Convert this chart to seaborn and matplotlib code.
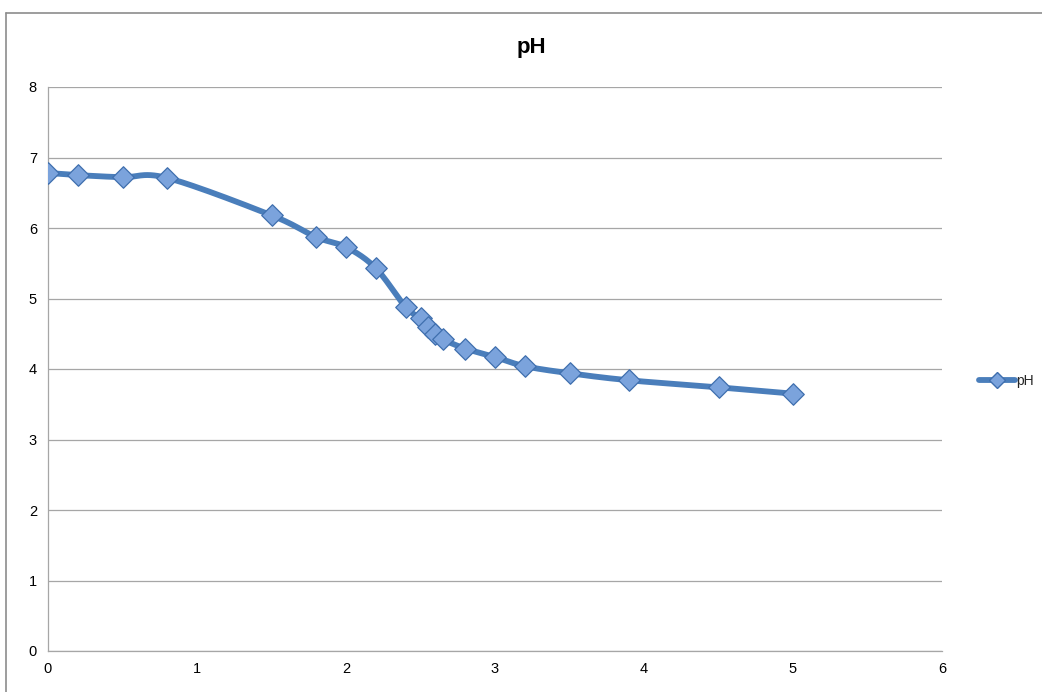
import numpy as np
import pandas as pd
import matplotlib
matplotlib.use("Agg")
import matplotlib.pyplot as plt
import seaborn as sns
from matplotlib.lines import Line2D

x_vals = [0, 0.2, 0.5, 0.8, 1.5, 1.8, 2.0, 2.2, 2.4, 2.5, 2.55, 2.6, 2.65, 2.8, 3.0, 3.2, 3.5, 3.9, 4.5, 5.0]
ph_vals = [6.78, 6.75, 6.72, 6.71, 6.18, 5.87, 5.73, 5.43, 4.88, 4.72, 4.6, 4.5, 4.42, 4.29, 4.17, 4.04, 3.94, 3.84, 3.74, 3.65]
x_ticks = [0, 1, 2, 3, 4, 5, 6]
y_ticks = [0, 1, 2, 3, 4, 5, 6, 7, 8]
title = "pH"
series_name = "pH"

df = pd.DataFrame({"x": x_vals, "pH": ph_vals})

sns.set_style("white")
plt.rcParams["font.family"] = ["Liberation Sans Narrow", "Liberation Sans", "DejaVu Sans"]

W, H = 1042, 692
fig = plt.figure(figsize=(W / 100, H / 100), dpi=100)
ax = fig.add_axes([48 / W, 1 - 651 / H, (942 - 48) / W, (651 - 87) / H])

line_c = "#4a7ebb"
mk_face = "#7ba3dc"
mk_edge = "#3f6fae"

# Excel-like smoothed line (Catmull-Rom Bezier in screen-scaled space)
sx, sy = 149.0, 70.5
px = np.array(x_vals) * sx
py = np.array(ph_vals) * sy
curve_x, curve_y = [], []
n = len(px)
for i in range(n - 1):
    p0 = np.array([px[max(i - 1, 0)], py[max(i - 1, 0)]])
    p1 = np.array([px[i], py[i]])
    p2 = np.array([px[i + 1], py[i + 1]])
    p3 = np.array([px[min(i + 2, n - 1)], py[min(i + 2, n - 1)]])
    c1 = p1 + (p2 - p0) / 6
    c2 = p2 - (p3 - p1) / 6
    t = np.linspace(0, 1, 30)[:, None]
    b = (1 - t) ** 3 * p1 + 3 * (1 - t) ** 2 * t * c1 + 3 * (1 - t) * t ** 2 * c2 + t ** 3 * p2
    curve_x.extend(b[:, 0] / sx)
    curve_y.extend(b[:, 1] / sy)

sns.lineplot(x=curve_x, y=curve_y, ax=ax, color=line_c, linewidth=4.2, sort=False,
             estimator=None, zorder=3, solid_capstyle="round")
sns.scatterplot(data=df, x="x", y="pH", ax=ax, marker="D", s=120, color=mk_face,
                edgecolor=mk_edge, linewidth=0.9, zorder=4)

ax.set_xlim(0, 6)
ax.set_ylim(0, 8)
ax.set_xticks(x_ticks)
ax.set_yticks(y_ticks)
ax.set_xticklabels([str(v) for v in x_ticks], fontsize=10.5)
ax.set_yticklabels([str(v) for v in y_ticks], fontsize=10.5)
ax.set_xlabel("")
ax.set_ylabel("")
ax.yaxis.grid(True, color="#a6a6a6", linewidth=0.9)
ax.xaxis.grid(False)
ax.set_axisbelow(True)
for s in ["top", "right"]:
    ax.spines[s].set_visible(False)
for s in ["left", "bottom"]:
    ax.spines[s].set_color("#a6a6a6")
    ax.spines[s].set_linewidth(0.9)
ax.tick_params(axis="both", direction="out", length=4, width=0.9,
               labelcolor="#000000", pad=4)
ax.tick_params(axis="both", color="#a6a6a6")

fig.text(531 / W, 1 - 48 / H, title, ha="center", va="center", fontsize=16,
         fontweight="bold", color="black", family=["Liberation Sans", "DejaVu Sans"])

# legend
handle = Line2D([0], [0], color=line_c, linewidth=4.2, marker="D", markersize=8,
                markerfacecolor=mk_face, markeredgecolor=mk_edge)
fig.legend(handles=[handle], labels=[series_name], loc="center left",
           bbox_to_anchor=(966 / W, 1 - 381 / H), frameon=False,
           handlelength=2.6, handletextpad=0.1,
           prop={"family": ["Liberation Sans", "DejaVu Sans"], "size": 10})

# outer chart frame
fig.add_artist(Line2D([6 / W, 6 / W], [0, 1 - 13 / H], color="#8c8c8c", linewidth=1.2,
                      transform=fig.transFigure))
fig.add_artist(Line2D([6 / W, 1], [1 - 13 / H, 1 - 13 / H], color="#8c8c8c", linewidth=1.2,
                      transform=fig.transFigure))

fig.savefig("out.png", dpi=100, facecolor="white")
